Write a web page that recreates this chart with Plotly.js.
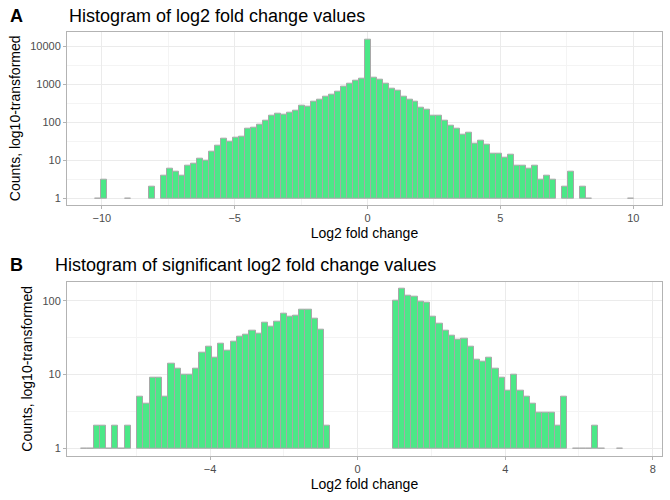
<!DOCTYPE html>
<html>
<head>
<meta charset="utf-8">
<script src="https://cdn.plot.ly/plotly-3.0.1.min.js"></script>
<style>body{margin:0}#plot{width:670px;height:500px}</style>
</head>
<body>
<div id="plot"></div>
<script>
// Panel A: all log2 fold changes, bins of width ~0.2256 starting at centre -10.152
var allStart = -10.152;
var allWidth = 0.2256;
var allCounts = [
	1, 3, null, null, null, 1, null, null, null, 2, null,
	4, 6, 5, 4, 7, 8, 11, 10, 17, 24, 37, 30, 40, 41, 68, 70, 85, 113, 146, 166,
	159, 180, 203, 274, 253, 350, 387, 464, 523, 643, 868, 1060, 1230, 1390,
	15200,
	1500, 1320, 1040, 780, 665, 480, 395, 345, 238, 210, 153, 150, 110, 82, 68,
	48, 52, 27, 33, 25, 15, 15, 12, 14, 7, 7, 6, 7, 3, 4, 3, null, 2, 5, null, 2, 1,
	null, null, null, null, null, null, 1
];

// Panel B: significant log2 fold changes, bins of width 0.169 starting at centre -7.415
var sigStart = -7.415;
var sigWidth = 0.169;
var sigCounts = [
	1, 1, 2, 2, 1, 2, 1, 2, null,
	5, 4, 9, 9, 5, 14, 12, 10, 10, 12, 20, 24, 17, 26, 21, 28, 33, 35, 40, 36,
	51, 44, 52, 68, 61, 62, 76, 76, 58, 41, 2,
	null, null, null, null, null, null, null, null, null, null,
	101, 145, 117, 114, 96, 93, 61, 49, 40, 34, 30, 31, 24, 16, 15, 17, 12, 9,
	6, 10, 6, 5, 4, 3, 3, 3, 2, 5,
	null, 1, 1, 1, 2, 1, null, null, 1
];

var countTicks = [1, 10, 100, 1000, 10000];

function histTrace(start, width, counts, xa, ya) {
	var x = [], y = [];
	counts.forEach(function (c, i) {
		if (c === null) return;
		x.push(start + i * width);
		y.push(Math.log10(c));
	});
	return {
		type: 'bar',
		x: x,
		y: y,
		base: 0,
		width: width,
		xaxis: xa,
		yaxis: ya,
		marker: {
			color: '#4BE887',
			line: {color: '#A8A8A8', width: 1}
		},
		hoverinfo: 'skip'
	};
}

var gridAxis = {
	showgrid: true,
	gridcolor: '#EBEBEB',
	gridwidth: 1,
	zeroline: false,
	showline: true,
	linecolor: '#B3B3B3',
	mirror: true,
	ticks: 'outside',
	ticklen: 3,
	tickcolor: '#B3B3B3',
	tickfont: {size: 11, color: '#4D4D4D'},
	minor: {showgrid: true, gridcolor: '#F4F4F4', gridwidth: 1}
};

function axis(extra) {
	return Object.assign({}, JSON.parse(JSON.stringify(gridAxis)), extra);
}

var data = [
	histTrace(allStart, allWidth, allCounts, 'x', 'y'),
	histTrace(sigStart, sigWidth, sigCounts, 'x2', 'y2')
];

var layout = {
	width: 670,
	height: 500,
	margin: {l: 0, r: 0, t: 0, b: 0},
	paper_bgcolor: 'white',
	plot_bgcolor: 'white',
	showlegend: false,
	bargap: 0,
	font: {family: 'Liberation Sans, Arial, sans-serif', color: '#000'},
	xaxis: axis({
		domain: [0.1, 0.988], anchor: 'y', range: [-11.31, 11.08],
		tickvals: [-10, -5, 0, 5, 10], minor: {showgrid: true, gridcolor: '#F4F4F4', tickvals: [-7.5, -2.5, 2.5, 7.5]},
		title: {text: 'Log2 fold change', font: {size: 14}, standoff: 4}
	}),
	yaxis: axis({
		domain: [0.59, 0.9366], anchor: 'x', range: [-0.176, 4.38],
		tickvals: countTicks.map(Math.log10), ticktext: countTicks.map(String),
		minor: {showgrid: true, gridcolor: '#F4F4F4', tickvals: [0.5, 1.5, 2.5, 3.5]},
		title: {text: 'Counts, log10-transformed', font: {size: 14}, standoff: 6}
	}),
	xaxis2: axis({
		domain: [0.1, 0.988], anchor: 'y2', range: [-7.88, 8.25],
		tickvals: [-8, -4, 0, 4, 8], minor: {showgrid: true, gridcolor: '#F4F4F4', tickvals: [-6, -2, 2, 6]},
		title: {text: 'Log2 fold change', font: {size: 14}, standoff: 4}
	}),
	yaxis2: axis({
		domain: [0.088, 0.4366], anchor: 'x2', range: [-0.104, 2.26],
		tickvals: [0, 1, 2], ticktext: ['1', '10', '100'],
		minor: {showgrid: true, gridcolor: '#F4F4F4', tickvals: [0.5, 1.5]},
		title: {text: 'Counts, log10-transformed', font: {size: 14}, standoff: 6}
	}),
	annotations: [
		{text: '<b>A</b>', x: 8, y: 16, xref: 'paper', yref: 'paper', showarrow: false, font: {size: 18}},
		{text: 'Histogram of log2 fold change values', x: 67, y: 16, showarrow: false, font: {size: 18}},
		{text: '<b>B</b>', x: 8, y: 265, showarrow: false, font: {size: 18}},
		{text: 'Histogram of significant log2 fold change values', x: 53, y: 265, showarrow: false, font: {size: 18}}
	]
};

// annotation positions above are given in pixels; convert to paper coords
layout.annotations.forEach(function (a) {
	a.xref = 'paper'; a.yref = 'paper';
	a.x = a.x / 670; a.y = 1 - a.y / 500;
	a.xanchor = 'left'; a.yanchor = 'middle';
});

Plotly.newPlot('plot', data, layout, {displayModeBar: false});
</script>
</body>
</html>
